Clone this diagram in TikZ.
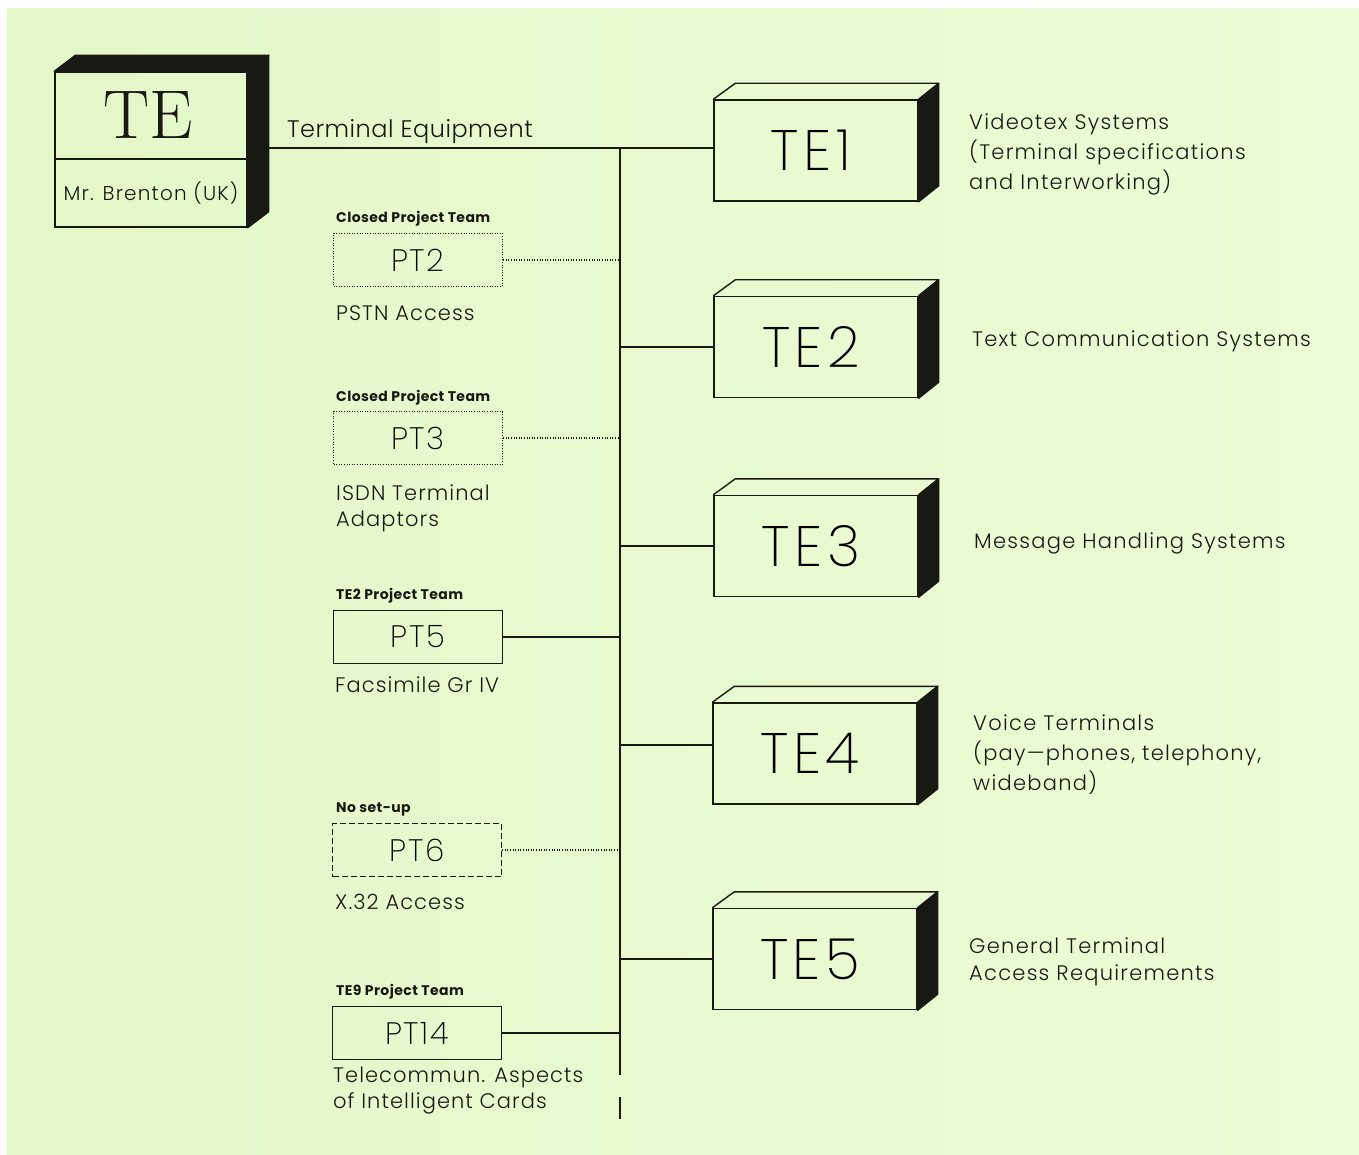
\documentclass[tikz,border=0pt]{standalone}
\usepackage{fontspec}
\newfontfamily\pop{Poppins}
\IfFontExistsTF{Poppins Light}
  {\newfontfamily\popl{Poppins Light}}
  {\newfontfamily\popl{Poppins}}
\IfFontExistsTF{Poppins ExtraLight}
  {\newfontfamily\popx{Poppins ExtraLight}}
  {\IfFontExistsTF{Poppins Light}{\newfontfamily\popx{Poppins Light}}{\newfontfamily\popx{Poppins}}}
\usetikzlibrary{calc}
\definecolor{bgL}{RGB}{228,247,200}
\definecolor{bgR}{RGB}{236,252,214}
\definecolor{ink}{RGB}{25,25,20}
\tikzset{
  lw/.style={line width=1.4pt},
  tebox/.style={draw=ink, lw, minimum width=204pt, minimum height=101pt, inner sep=0pt,
     font=\popx\addfontfeature{LetterSpace=8}\fontsize{57}{57}\selectfont},
  ptbox/.style={draw=ink, lw, minimum width=169pt, minimum height=53pt, inner sep=0pt,
     font=\popx\addfontfeature{LetterSpace=5}\fontsize{31}{31}\selectfont},
  dotbox/.style={ptbox, dash pattern=on 1pt off 1.6pt},
  dashbox/.style={ptbox, dash pattern=on 6pt off 3pt},
  dotline/.style={draw=ink, lw, dash pattern=on 1pt off 1.6pt},
  conn/.style={draw=ink, lw},
  face/.style={fill=ink, draw=ink, lw, line join=round},
  small/.style={font=\pop\addfontfeature{LetterSpace=3}\bfseries\fontsize{14}{16}\selectfont, anchor=base west, inner sep=0pt, text=ink},
  lab/.style={font=\popl\addfontfeature{LetterSpace=5}\fontsize{21}{25}\selectfont, anchor=base west, inner sep=0pt, text=ink},
  desc/.style={font=\popl\addfontfeature{LetterSpace=6}\fontsize{21}{25}\selectfont, anchor=base west, inner sep=0pt, text=ink},
}
\begin{document}
\begin{tikzpicture}[x=1pt,y=-1pt]
\useasboundingbox (0,0) rectangle (1359,1155);
\fill[white] (0,0) rectangle (1359,1155);
\shade[left color=bgL, right color=bgR] (7,9) rectangle (1359,1155);

% main TE box
\node[draw=ink, lw, minimum width=192pt, minimum height=155pt, inner sep=0pt] (te) at (151,149.5) {};
\coordinate (divy) at (0,159);
\node[font=\fontsize{69}{69}\selectfont, anchor=base, inner sep=0pt, text=ink] (tetitle) at (148,139) {TE};
\node[font=\popl\addfontfeature{LetterSpace=6}\fontsize{20}{24}\selectfont, anchor=base, inner sep=0pt, text=ink] (brenton) at (151,201) {Mr. Brenton (UK)};

% TE working groups
\node[tebox] (te1) at (816,150.5) {TE1\hspace*{10pt}};
\node[tebox] (te2) at (816,347) {TE2\hspace*{10pt}};
\node[tebox] (te3) at (816,546) {TE3\hspace*{10pt}};
\node[tebox] (te4) at (815,753.5) {TE4\hspace*{10pt}};
\node[tebox] (te5) at (815,959) {TE5\hspace*{10pt}};

% project teams
\node[dotbox] (pt2) at (418,260) {PT2};
\node[dotbox] (pt3) at (418,438) {PT3};
\node[ptbox] (pt5) at (418,637) {PT5};
\node[dashbox] (pt6) at (417,850) {PT6};
\node[ptbox] (pt14) at (417,1033) {PT14};

% bus coordinates
\coordinate (busTop) at (620,148);
\coordinate (busBot) at (620,1075);
\coordinate (busA) at (620,1097);
\coordinate (busB) at (620,1119);
\coordinate (b4) at (620,745);

% connectors
\draw[conn] (te.east |- busTop) -- (te1.west |- busTop);
\draw[conn] (busTop) -- (busBot);
\draw[conn] (busA) -- (busB);
\draw[conn] (te2.west -| busTop) -- (te2.west);
\draw[conn] (te3.west -| busTop) -- (te3.west);
\draw[conn] (b4) -- (b4 -| te4.west);
\draw[conn] (te5.west -| busTop) -- (te5.west);
\draw[dotline] (pt2.east) -- (pt2.east -| busTop);
\draw[dotline] (pt3.east) -- (pt3.east -| busTop);
\draw[conn] (pt5.east) -- (pt5.east -| busTop);
\draw[dotline] (pt6.east) -- (pt6.east -| busTop);
\draw[conn] (pt14.east) -- (pt14.east -| busTop);

% 3D faces of main box
\draw[conn] (te.west |- divy) -- (te.east |- divy);
\filldraw[face] (te.north west) -- ++(21,-16) -- ($(te.north east)+(21,-16)$) -- (te.north east) -- cycle;
\filldraw[face] (te.north east) -- ++(21,-16) -- ($(te.south east)+(21,-16)$) -- (te.south east) -- cycle;

% 3D faces of TE boxes
\foreach \n in {te1,te2,te3,te4,te5}{
  \draw[conn, line join=round] (\n.north west) -- ++(22,-16) -- ($(\n.north east)+(20,-16)$) -- (\n.north east);
  \filldraw[face] (\n.north east) -- ++(20,-16) -- ($(\n.south east)+(20,-16)$) -- (\n.south east) -- cycle;
}

% labels
\node[font=\popl\addfontfeature{LetterSpace=2}\fontsize{24}{28}\selectfont, anchor=base west, inner sep=0pt, text=ink] (telabel) at (287,138) {Terminal Equipment};

\node[small] (s2) at (336,223) {Closed Project Team};
\node[small] (s3) at (336,401) {Closed Project Team};
\node[small] (s5) at (336,599) {TE2 Project Team};
\node[small] (s6) at (336,812) {No set-up};
\node[small] (s14) at (336,995) {TE9 Project Team};

\node[lab] (l2) at (336,321) {PSTN Access};
\node[lab] (l3a) at (336,500) {ISDN Terminal};
\node[lab] (l3b) at (336,526) {Adaptors};
\node[lab] (l5) at (335,692) {Facsimile Gr IV};
\node[lab] (l6) at (335,909) {X.32 Access};
\node[lab] (l14a) at (333,1082) {Telecommun. Aspects};
\node[lab] (l14b) at (333,1108) {of Intelligent Cards};

\node[desc] (d1a) at (969,130) {Videotex Systems};
\node[desc] (d1b) at (969,160) {(Terminal specifications};
\node[desc] (d1c) at (969,190) {and Interworking)};
\node[desc] (d2) at (972,346) {Text Communication Systems};
\node[desc] (d3) at (974,548) {Message Handling Systems};
\node[desc] (d4a) at (973,730) {Voice Terminals};
\node[desc] (d4b) at (973,760) {(pay—phones, telephony,};
\node[desc] (d4c) at (973,790) {wideband)};
\node[desc] (d5a) at (969,953) {General Terminal};
\node[desc] (d5b) at (969,980) {Access Requirements};
\end{tikzpicture}
\end{document}
